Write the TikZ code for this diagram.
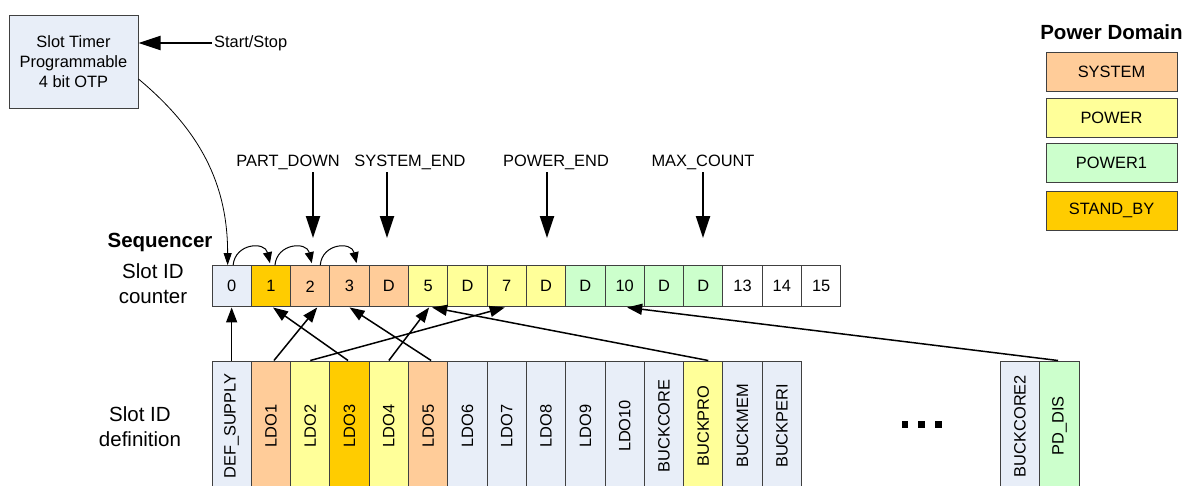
\documentclass[tikz,border=0pt]{standalone}
\usepackage{fontspec}
\usepackage{graphicx}
\setmainfont{Liberation Sans}
\usetikzlibrary{arrows.meta}

\definecolor{slate}{HTML}{E8EEF8}
\definecolor{sysc}{HTML}{FFCC99}
\definecolor{powc}{HTML}{FFFF99}
\definecolor{powonec}{HTML}{CCFFCC}
\definecolor{stbc}{HTML}{FFCC00}
\definecolor{edge}{HTML}{404040}

\tikzset{
  txt/.style={font=\fontsize{16.4}{20}\selectfont},
  big/.style={font=\fontsize{20.5}{25}\selectfont},
  bigbold/.style={font=\fontsize{20.5}{25}\selectfont\bfseries},
  cell/.style={draw=edge, line width=1pt, minimum width=39.3pt, minimum height=41.3pt, inner sep=0pt, txt},
  defbox/.style={draw=edge, line width=1pt, minimum width=39.3pt, minimum height=130pt, inner sep=0pt, txt},
  legbox/.style={draw=edge, line width=1pt, minimum width=131pt, minimum height=39pt, inner sep=0pt, txt},
  thick arrow/.style={line width=2.3pt, -{Triangle[length=22pt,width=14pt]}},
  link/.style={line width=1.5pt, -{Triangle[length=15pt,width=11pt]}},
  hop/.style={line width=1pt, -{Triangle[length=11pt,width=9pt]}},
  feed/.style={line width=0.8pt, -{Triangle[length=12pt,width=8pt]}},
  dot/.style={fill=black, minimum size=6.7pt, inner sep=0pt},
}

\begin{document}
\begin{tikzpicture}[x=1pt,y=-1pt]
\useasboundingbox (0,0) rectangle (1186,485);

% timer block
\node[draw=edge, line width=1pt, fill=slate, minimum width=129pt, minimum height=93pt,
      align=center, txt] (timer) at (73.5,61.5) {Slot Timer\\Programmable\\4 bit OTP};
\node[txt, anchor=west, inner sep=2pt] (ss) at (212,43) {Start/Stop};
\draw[thick arrow] (ss.west) -- (timer.east |- ss.west);

% row captions
\node[bigbold] (seq) at (160,242) {Sequencer};
\node[big, align=center] (cnt) at (153,284) {Slot ID\\counter};
\node[big, align=center] (defn) at (140,427) {Slot ID\\definition};

% slot id counter
\foreach \i/\t/\c in {0/0/slate,1/1/stbc,2/2/sysc,3/3/sysc,4/D/sysc,5/5/powc,6/D/powc,7/7/powc,
                      8/D/powc,9/D/powonec,10/10/powonec,11/D/powonec,12/D/powonec,13/13/white,
                      14/14/white,15/15/white}
  \node[cell, fill=\c] (c\i) at ({212+39.3*(\i+0.5)},286.3) {\t};

% slot id definitions
\foreach \i/\t/\c in {0/DEF\_SUPPLY/slate,1/LDO1/sysc,2/LDO2/powc,3/LDO3/stbc,4/LDO4/powc,
                      5/LDO5/sysc,6/LDO6/slate,7/LDO7/slate,8/LDO8/slate,9/LDO9/slate,
                      10/LDO10/slate,11/BUCKCORE/slate,12/BUCKPRO/powc,13/BUCKMEM/slate,
                      14/BUCKPERI/slate}
  \node[defbox, fill=\c] (d\i) at ({212+39.3*(\i+0.5)},426) {\rotatebox{90}{\t}};
\node[defbox, fill=slate] (d15) at (1020,426) {\rotatebox{90}{BUCKCORE2}};
\node[defbox, fill=powonec] (d16) at (1059.5,426) {\rotatebox{90}{PD\_DIS}};

% ellipsis between the definition groups
\node[dot] (e1) at (905,424.3) {};
\node[dot] (e2) at (921.7,424.3) {};
\node[dot] (e3) at (938.3,424.3) {};

% legend
\node[bigbold] (legt) at (1111.5,32) {Power Domain};
\node[legbox, fill=sysc] (l1) at (1111.5,71.5) {SYSTEM};
\node[legbox, fill=powc] (l2) at (1111.5,117.5) {POWER};
\node[legbox, fill=powonec] (l3) at (1111.5,162.5) {POWER1};
\node[legbox, fill=stbc] (l4) at (1111.5,210.5) {STAND\_BY};

% markers above the counter
\node[txt, inner sep=0pt] (m1) at (288,162) {PART\_DOWN};
\node[txt, inner sep=0pt] (m2) at (410,162) {SYSTEM\_END};
\node[txt, inner sep=0pt] (m3) at (556,162) {POWER\_END};
\node[txt, inner sep=0pt] (m4) at (703,162) {MAX\_COUNT};
\coordinate (t1) at (313,238);
\coordinate (t2) at (387,238);
\coordinate (t3) at (547,238);
\coordinate (t4) at (703,238);
\foreach \k in {1,2,3,4}
  \draw[thick arrow] (t\k |- 0,172) -- (t\k);

% timer feeds the counter
\draw[feed] ([yshift=-17.5pt]timer.east) .. controls +(61,51) and +(0,-82) .. ([xshift=-4pt]c0.north);

% counter steps
\draw[hop] ([xshift=1.5pt]c0.north) .. controls +(2,-22) and +(-5,-22) .. ([xshift=-1pt,yshift=2pt]c1.north);
\draw[hop] ([xshift=4pt]c1.north) .. controls +(2,-22) and +(-5,-22) .. ([xshift=1.5pt,yshift=2pt]c2.north);
\draw[hop] ([xshift=10pt]c2.north) .. controls +(2,-22) and +(-5,-22) .. ([xshift=7pt,yshift=2pt]c3.north);

% definitions mapped onto slots
\draw[link] (d0.north) -- (c0.south);
\draw[link] ([xshift=3pt]d1.north) -- ([xshift=7pt]c2.south);
\draw[link] (d2.north) -- ([xshift=-2pt]c7.south);
\draw[link] ([xshift=-1.5pt]d3.north) -- ([xshift=2pt]c1.south);
\draw[link] (d4.north) -- ([xshift=1pt]c5.south);
\draw[link] ([xshift=3pt]d5.north) -- (c3.south);
\draw[link] ([xshift=5pt]d12.north) -- ([xshift=4pt]c5.south);
\draw[link] ([xshift=-1.5pt]d16.north) -- ([xshift=2.5pt]c10.south);
\end{tikzpicture}
\end{document}
